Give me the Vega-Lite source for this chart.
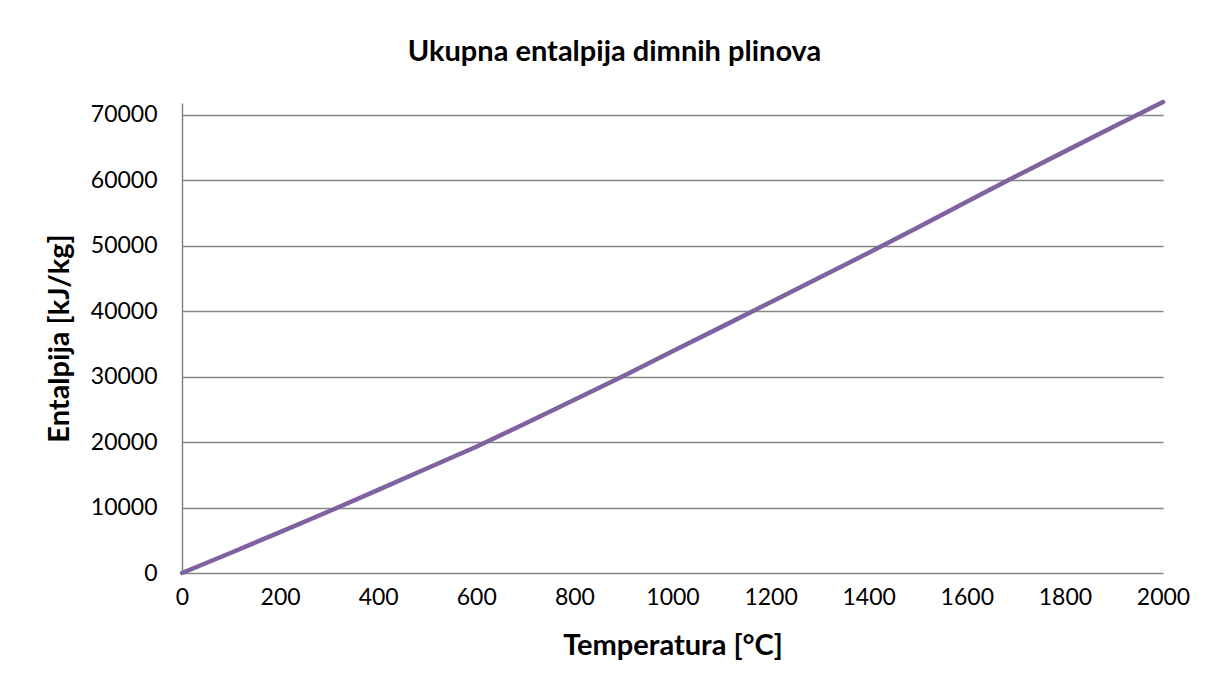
{
  "$schema": "https://vega.github.io/schema/vega-lite/v6.json",
  "autosize": "none",
  "width": 981,
  "height": 470,
  "padding": {"left": 182, "top": 103, "right": 45, "bottom": 124},
  "background": "white",
  "title": {
    "text": "Ukupna entalpija dimnih plinova",
    "font": "Lato",
    "fontSize": 29,
    "fontWeight": "bold",
    "color": "black",
    "anchor": "middle",
    "dx": -58,
    "offset": 26
  },
  "data": {
    "values": [
      {"T": 0, "H": 0},
      {"T": 100, "H": 3100},
      {"T": 200, "H": 6250},
      {"T": 300, "H": 9430},
      {"T": 400, "H": 12700},
      {"T": 500, "H": 16000},
      {"T": 600, "H": 19280},
      {"T": 700, "H": 22840},
      {"T": 800, "H": 26470},
      {"T": 900, "H": 30110},
      {"T": 1000, "H": 33860},
      {"T": 1100, "H": 37600},
      {"T": 1200, "H": 41360},
      {"T": 1300, "H": 45130},
      {"T": 1400, "H": 48910},
      {"T": 1500, "H": 52780},
      {"T": 1600, "H": 56700},
      {"T": 1700, "H": 60610},
      {"T": 1800, "H": 64410},
      {"T": 1900, "H": 68210},
      {"T": 2000, "H": 71950}
    ]
  },
  "mark": {"type": "line", "color": "#7F63A1", "strokeWidth": 4.5, "strokeCap": "round", "clip": false},
  "encoding": {
    "x": {
      "field": "T",
      "type": "quantitative",
      "scale": {"domain": [0, 2000], "nice": false, "zero": false},
      "axis": {
        "title": "Temperatura [°C]",
        "values": [0, 200, 400, 600, 800, 1000, 1200, 1400, 1600, 1800, 2000],
        "format": "d",
        "grid": false,
        "ticks": false,
        "domain": false,
        "labelFlush": false,
        "labelBound": false,
        "labelPadding": 13,
        "titlePadding": 22
      }
    },
    "y": {
      "field": "H",
      "type": "quantitative",
      "scale": {"domain": [0, 71800], "nice": false},
      "axis": {
        "title": "Entalpija [kJ/kg]",
        "values": [0, 10000, 20000, 30000, 40000, 50000, 60000, 70000],
        "format": "d",
        "grid": true,
        "ticks": false,
        "domain": true,
        "labelFlush": false,
        "labelPadding": 25,
        "titlePadding": 16
      }
    }
  },
  "config": {
    "view": {"stroke": null},
    "axis": {
      "labelFont": "Lato",
      "labelFontSize": 23,
      "labelColor": "black",
      "titleFont": "Lato",
      "titleFontSize": 29,
      "titleFontWeight": "bold",
      "titleColor": "black",
      "gridColor": "#868686",
      "gridWidth": 1.5,
      "gridOpacity": 1,
      "domainColor": "#868686",
      "domainWidth": 1.5
    }
  }
}
